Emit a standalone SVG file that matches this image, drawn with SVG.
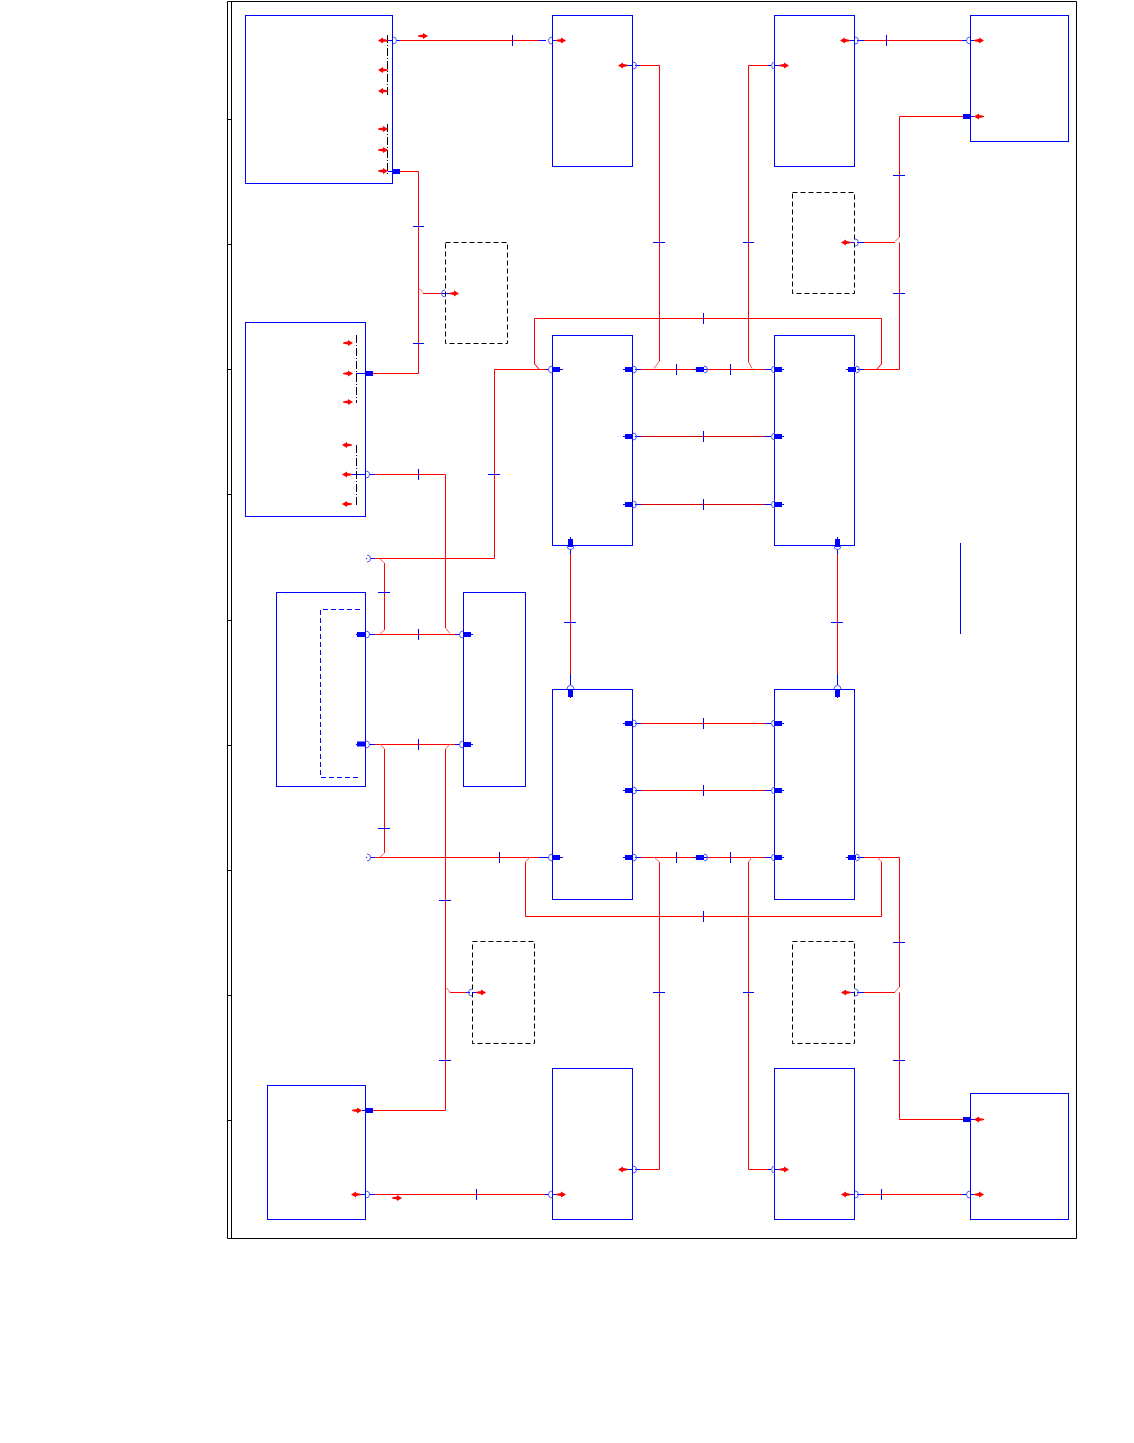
<svg xmlns="http://www.w3.org/2000/svg" width="1134" height="1443" viewBox="0 0 1134 1443">
<style>
.n{fill:none;stroke:#0000ff;stroke-width:1}
.d{fill:none;stroke:#000;stroke-width:1;stroke-dasharray:5 3}
.bd{fill:none;stroke:#0000ff;stroke-width:1;stroke-dasharray:5 3}
.f{fill:none;stroke:#000;stroke-width:1}
.r{fill:none;stroke:#ff0000;stroke-width:1}
.c{fill:none;stroke:#ff5a5a;stroke-width:1}
.t{fill:none;stroke:#0000ff;stroke-width:1}
.b{fill:none;stroke:#0000ff;stroke-width:1}
.da{fill:none;stroke:#000;stroke-width:1;stroke-dasharray:8 2 1 2}
.dk{fill:none;stroke:#d00000;stroke-width:1}
.a{fill:#ff0000;stroke:none}
.arc{fill:none;stroke:#5858ff;stroke-width:1}
.s{fill:#0000ff;stroke:none}
</style>
<defs>
<g id="al"><polygon class="a" points="0,0 5,-3 5,-1.5 8,-1 10,-0.5 10,0.5 8,1 5,1.5 5,3"/></g>
<g id="ar"><polygon class="a" points="10,0 5,-3 5,-1.5 2,-1 0,-0.5 0,0.5 2,1 5,1.5 5,3"/></g>
<path id="pr" class="arc" d="M0,-3.5A3.5,3.5 0 0 1 0,3.5"/>
<path id="pl" class="arc" d="M0,-3.5A3.5,3.5 0 0 0 0,3.5"/>
<rect id="bx" class="s" x="0" y="-2.5" width="8" height="5"/>
<rect id="by" class="s" x="-2.5" y="0" width="5" height="8"/>
<path id="pt" class="arc" d="M-3.5,0A3.5,3.5 0 0 1 3.5,0"/>
<path id="pb" class="arc" d="M-3.5,0A3.5,3.5 0 0 0 3.5,0"/>
</defs>
<g id="frame">
<path class="f" d="M227.5,1238.5V1.5H1076.5V1238.5H227.5M231.5,1.5V1238.5"/>
<path class="f" d="M228,119.5H231M228,244.5H231M228,369.5H231M228,494.5H231M228,620.5H231M228,745.5H231M228,870.5H231M228,995.5H231M228,1120.5H231"/>
</g>
<g id="connectors">
<path class="r" d="M400,40.5H546"/>
<path class="r" d="M640,65.5H659.5V361M641,369.5H696"/>
<path class="r" d="M708,369.5H765"/>
<path class="r" d="M748.5,362V65.5H768"/>
<path class="r" d="M864,40.5H962"/>
<path class="r" d="M963,116.5H899.5V237M899.5,242.5V369.5H864"/>
<path class="r" d="M864,242.5H895"/>
<path class="r" d="M539,369.5L534.5,364V318.5H881.5V364L877,369.5"/>
<path class="r" d="M546,369.5H494.5V558.5H375"/>
<path class="r" d="M384.5,563V630"/>
<path class="r" d="M375,634.5H455"/>
<path class="r" d="M375,474.5H445.5V628"/>
<path class="r" d="M400,171.5H418.5V373.5H373"/>
<path class="r" d="M423,293.5H441"/>
<path class="dk" d="M641,436.5H765M641,504.5H765"/>
<path class="r" d="M641,723.5H765M641,790.5H765"/>
<path class="r" d="M570.5,554V674M837.5,554V674"/>
<path class="r" d="M375,744.5H455"/>
<path class="r" d="M384.5,749V853"/>
<path class="r" d="M375,857.5H546"/>
<path class="r" d="M445.5,749V1110.5H373"/>
<path class="r" d="M450,992.5H466"/>
<path class="r" d="M641,857.5H696M708,857.5H765"/>
<path class="r" d="M525.5,862V916.5H881.5V862"/>
<path class="r" d="M659.5,862V1169.5H640"/>
<path class="r" d="M748.5,862V1169.5H768"/>
<path class="r" d="M864,857.5H899.5V987M899.5,992.5V1119.5H963"/>
<path class="r" d="M864,992.5H895"/>
<path class="r" d="M375,1194.5H545"/>
<path class="r" d="M864,1194.5H962"/>
<path class="c" d="M659.5,361L654,368.5M748.5,362L752,368.5M881.5,364L877,368.5M534.5,364L539,368.5M380,559L384.5,563M384.5,630L380,634M445.5,628L450,633.5M899.5,237L895,241.5M418.5,288L423,292.5"/>
<path class="c" d="M380,744L384.5,749M450,744L445.5,749M384.5,853L380,857M445.5,987L450,992M530,857L525.5,862M654,857L659.5,862M752,857L748.5,862M877,857L881.5,862M899.5,987L895,992"/>
<path class="t" d="M512.5,35V46M413,226.5H424M413,343.5H424M653,242.5H665M743,242.5H754M703.5,313V324M676.5,364V375M730.5,364V375M886.5,35V46M893,175.5H905M893,293.5H905M703.5,431V442M703.5,499V510M418.5,469V480M488,474.5H500M378,592.5H390M418.5,629V640M564,622.5H576M831,622.5H843M703.5,718V729M703.5,785V796M418.5,739V750M378,828.5H390M499.5,852V863M676.5,852V863M730.5,852V863M703.5,911V922M439,900.5H451M439,1060.5H451M653,992.5H665M743,992.5H754M893,942.5H905M893,1060.5H905M476.5,1189V1200M881.5,1189V1200"/>
<path class="b" d="M386,40.5H392M396,40.5H400M539,40.5H546M552,40.5H557M628,65.5H632M635,65.5H640M768,65.5H771M775,65.5H781M850,40.5H854M857,40.5H864M962,40.5H967M970,40.5H976M392,171.5H388M971,116.5H976M851,242.5H854M857,242.5H864M441,293.5H445M445,293.5H450"/>
<path class="b" d="M356,373.5H365M352,474.5H366M369,474.5H375M366,558.5H367M370,558.5H375M356,634.5H365M369,634.5H375M455,634.5H460M471,634.5H473M356,744.5H365M369,744.5H375M455,744.5H460M471,744.5H473M366,857.5H367M370,857.5H375M539,857.5H549M560,857.5H563M362,1110.5H365M361,1194.5H365M369,1194.5H375M545,1194.5H549M552,1194.5H557M850,1194.5H854M857,1194.5H864M962,1194.5H967M970,1194.5H976M628,1169.5H632M635,1169.5H640M768,1169.5H771M775,1169.5H781M851,992.5H854M857,992.5H864M466,992.5H470M472,992.5H476M971,1119.5H976"/>
<path class="b" d="M546,369.5H549M560,369.5H563M623,369.5H625M635,369.5H641M704,369.5H708M694,369.5H696M765,369.5H771M782,369.5H784M846,369.5H848M857,369.5H864M623,436.5H625M635,436.5H641M765,436.5H771M782,436.5H784M623,504.5H625M635,504.5H641M765,504.5H771M782,504.5H784M623,723.5H625M635,723.5H641M765,723.5H771M782,723.5H784M623,790.5H625M635,790.5H641M765,790.5H771M782,790.5H784M623,857.5H625M635,857.5H641M694,857.5H696M704,857.5H708M765,857.5H771M782,857.5H784M846,857.5H848M857,857.5H864"/>
<path class="b" d="M570.5,537V539M570.5,549V554M570.5,674V685M570.5,696V698M837.5,537V539M837.5,549V554M837.5,674V685M837.5,696V698"/>
</g>
<g id="n1"><rect class="n" x="245.5" y="15.5" width="147" height="168"/>
<path class="da" d="M387.5,35V95M387.5,124V176"/>
<use href="#al" x="378" y="40.5"/><use href="#al" x="378" y="70"/><use href="#al" x="378" y="91"/>
<use href="#ar" x="378" y="129"/><use href="#ar" x="378" y="150"/><use href="#ar" x="378" y="171"/>
<use href="#pr" x="393" y="40.5"/><use href="#bx" x="392" y="171.5"/>
<use href="#ar" x="418" y="36"/></g>
<g id="n2"><rect class="n" x="552.5" y="15.5" width="80" height="151"/>
<use href="#pl" x="552" y="40.5"/><use href="#ar" x="556" y="40.5"/><use href="#pr" x="633" y="65.5"/><use href="#al" x="618" y="65.5"/></g>
<g id="n3"><rect class="n" x="774.5" y="15.5" width="80" height="151"/>
<use href="#pl" x="775" y="65.5"/><use href="#ar" x="779" y="65.5"/><use href="#pr" x="855" y="40.5"/><use href="#al" x="840" y="40.5"/></g>
<g id="n4"><rect class="n" x="970.5" y="15.5" width="98" height="126"/>
<use href="#pl" x="970" y="40.5"/><use href="#ar" x="974" y="40.5"/><use href="#bx" x="963" y="116.5"/><use href="#al" x="974" y="116.5"/></g>
<g id="n5"><rect class="d" x="792.5" y="192.5" width="62" height="101"/>
<use href="#pr" x="855" y="242.5"/><use href="#al" x="841" y="242.5"/></g>
<g id="n6"><rect class="d" x="445.5" y="242.5" width="62" height="101"/>
<use href="#pl" x="445" y="293.5"/><use href="#ar" x="449" y="293.5"/></g>
<g id="n7"><rect class="n" x="245.5" y="322.5" width="120" height="194"/>
<path class="da" d="M356.5,335V403M356.5,445V505"/>
<use href="#ar" x="343" y="343"/><use href="#ar" x="343" y="373.5"/><use href="#ar" x="343" y="402"/>
<use href="#al" x="342" y="445"/><use href="#al" x="342" y="474.5"/><use href="#al" x="342" y="504"/>
<use href="#bx" x="365" y="373.5"/><use href="#pr" x="366" y="474.5"/></g>
<g id="n8"><rect class="n" x="552.5" y="335.5" width="80" height="210"/>
<use href="#pl" x="552" y="369.5"/><use href="#bx" x="552" y="369.5"/>
<use href="#bx" x="625" y="369.5"/><use href="#pr" x="633" y="369.5"/>
<use href="#bx" x="625" y="436.5"/><use href="#pr" x="633" y="436.5"/>
<use href="#bx" x="625" y="504.5"/><use href="#pr" x="633" y="504.5"/>
<use href="#by" x="570.5" y="539"/><use href="#pb" x="570.5" y="546"/></g>
<g id="n9"><rect class="n" x="774.5" y="335.5" width="80" height="210"/>
<use href="#pl" x="775" y="369.5"/><use href="#bx" x="774" y="369.5"/>
<use href="#bx" x="848" y="369.5"/><use href="#pr" x="856" y="369.5"/>
<use href="#pl" x="775" y="436.5"/><use href="#bx" x="774" y="436.5"/>
<use href="#pl" x="775" y="504.5"/><use href="#bx" x="774" y="504.5"/>
<use href="#by" x="837.5" y="539"/><use href="#pb" x="837.5" y="546"/></g>
<g id="n10"><use href="#bx" x="696" y="369.5"/><use href="#pr" x="704" y="369.5"/></g>
<g id="n11"><path class="arc" d="M367,555A3.5,3.5 0 0 1 367,562"/></g>
<g id="n12"><rect class="n" x="276.5" y="592.5" width="89" height="194"/>
<path class="bd" d="M360,609.5H320.5V777.5H360"/>
<use href="#bx" x="357" y="634.5"/><use href="#pr" x="366" y="634.5"/>
<use href="#bx" x="357" y="744"/><use href="#pr" x="366" y="744.5"/></g>
<g id="n13"><rect class="n" x="463.5" y="592.5" width="62" height="194"/>
<use href="#pl" x="463" y="634.5"/><use href="#bx" x="463" y="634.5"/>
<use href="#pl" x="463" y="744.5"/><use href="#bx" x="463" y="744.5"/></g>
<g id="n14"><path class="n" d="M960.5,543V634"/></g>
<g id="n15"><rect class="n" x="552.5" y="689.5" width="80" height="210"/>
<use href="#pt" x="570.5" y="689"/><use href="#by" x="570.5" y="689"/>
<use href="#bx" x="625" y="723.5"/><use href="#pr" x="633" y="723.5"/>
<use href="#bx" x="625" y="790.5"/><use href="#pr" x="633" y="790.5"/>
<use href="#bx" x="625" y="857.5"/><use href="#pr" x="633" y="857.5"/>
<use href="#pl" x="552" y="857.5"/><use href="#bx" x="552" y="857.5"/></g>
<g id="n16"><rect class="n" x="774.5" y="689.5" width="80" height="210"/>
<use href="#pt" x="837.5" y="689"/><use href="#by" x="837.5" y="689"/>
<use href="#pl" x="775" y="723.5"/><use href="#bx" x="774" y="723.5"/>
<use href="#pl" x="775" y="790.5"/><use href="#bx" x="774" y="790.5"/>
<use href="#pl" x="775" y="857.5"/><use href="#bx" x="774" y="857.5"/>
<use href="#bx" x="848" y="857.5"/><use href="#pr" x="856" y="857.5"/></g>
<g id="n17"><use href="#bx" x="696" y="857.5"/><use href="#pr" x="704" y="857.5"/></g>
<g id="n18"><path class="arc" d="M367,854A3.5,3.5 0 0 1 367,861"/></g>
<g id="n19"><rect class="d" x="472.5" y="941.5" width="62" height="102"/>
<use href="#pl" x="472" y="992.5"/><use href="#ar" x="476" y="992.5"/></g>
<g id="n20"><rect class="d" x="792.5" y="941.5" width="62" height="102"/>
<use href="#pr" x="855" y="992.5"/><use href="#al" x="841" y="992.5"/></g>
<g id="n21"><rect class="n" x="267.5" y="1085.5" width="98" height="134"/>
<use href="#ar" x="352" y="1110.5"/><use href="#bx" x="365" y="1110.5"/>
<use href="#al" x="351" y="1194.5"/><use href="#pr" x="366" y="1194.5"/>
<use href="#ar" x="392" y="1198"/></g>
<g id="n22"><rect class="n" x="552.5" y="1068.5" width="80" height="151"/>
<use href="#pr" x="633" y="1169.5"/><use href="#al" x="618" y="1169.5"/>
<use href="#pl" x="552" y="1194.5"/><use href="#ar" x="556" y="1194.5"/></g>
<g id="n23"><rect class="n" x="774.5" y="1068.5" width="80" height="151"/>
<use href="#pl" x="775" y="1169.5"/><use href="#ar" x="779" y="1169.5"/>
<use href="#pr" x="855" y="1194.5"/><use href="#al" x="841" y="1194.5"/></g>
<g id="n24"><rect class="n" x="970.5" y="1093.5" width="98" height="126"/>
<use href="#bx" x="963" y="1119.5"/><use href="#al" x="974" y="1119.5"/>
<use href="#pl" x="970" y="1194.5"/><use href="#ar" x="974" y="1194.5"/></g>
</svg>
